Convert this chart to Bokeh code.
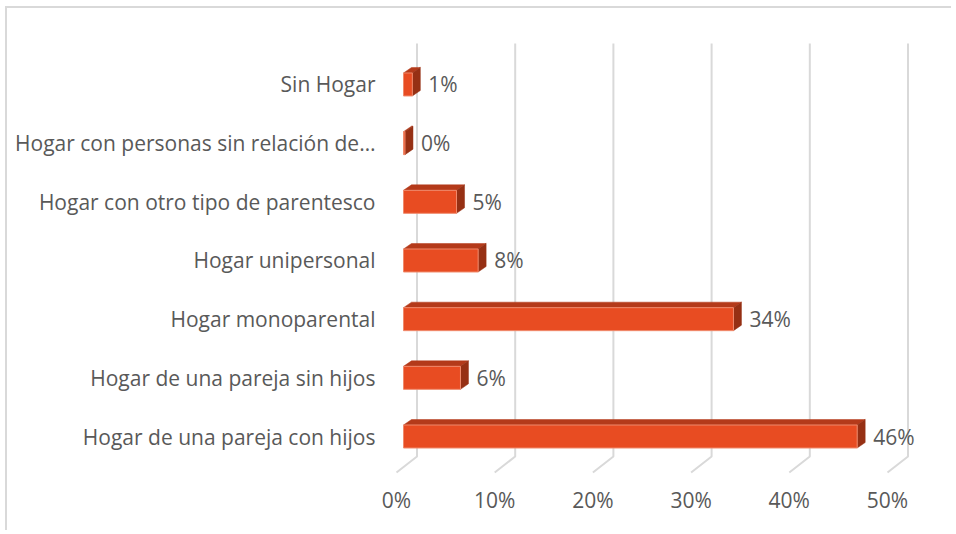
from bokeh.plotting import figure
from bokeh.models import FixedTicker, Range1d, ColumnDataSource
from bokeh.embed import file_html
from bokeh.resources import INLINE
from bokeh.core.properties import value

# ---- data ----
categories = [
    "Hogar de una pareja con hijos",
    "Hogar de una pareja sin hijos",
    "Hogar monoparental",
    "Hogar unipersonal",
    "Hogar con otro tipo de parentesco",
    "Hogar con personas sin relación de…",
    "Sin Hogar",
]
values = [46.2, 5.8, 33.6, 7.6, 5.4, 0.15, 0.9]
x_ticks = [0, 10, 20, 30, 40, 50]
x_tick_labels = ["0%", "10%", "20%", "30%", "40%", "50%"]

# ---- layout / geometry (pixels -> data) ----
W, H = 946, 524
FRAME_W, FRAME_H = 555, 448
BL, BT = 378, 22
PXU = 9.82     # px per percent
PYU = 58.67    # px per category
x_start = -11 / PXU
x_end = x_start + FRAME_W / PXU
y_start = -42 / PYU
y_end = y_start + FRAME_H / PYU

FONT = "Open Sans"
TXT = "#595959"
GRID = "#d9d9d9"
FRONT = "#e84c22"
TOP = "#b43a1a"
SIDE = "#963014"

p = figure(width=W, height=H, output_backend="svg", toolbar_location=None,
           x_range=Range1d(x_start, x_end), y_range=Range1d(y_start, y_end),
           min_border_left=BL, min_border_top=BT,
           min_border_right=W - BL - FRAME_W, min_border_bottom=H - BT - FRAME_H,
           background_fill_color="white", border_fill_color="white",
           outline_line_color=None,
           styles={"border-left": "2px solid #d9d9d9", "border-top": "2px solid #d9d9d9",
                   "margin-left": "5px", "margin-top": "6px"})
p.xgrid.visible = False
p.ygrid.visible = False

# back-wall gridlines with slanted floor segments
bdx = 20.5 / PXU
g_top = y_end - 13 / PYU
g_bot = y_end - 426 / PYU
g_sl = y_end - 442 / PYU
gxs = [[t + bdx, t + bdx, t] for t in x_ticks]
gys = [[g_top, g_bot, g_sl] for _ in x_ticks]
p.multi_line(xs=gxs, ys=gys, line_color=GRID, line_width=2)

# 3D bars
off = 7 / PXU
hh = 11.5 / PYU
ddx = 8 / PXU
ddy = 5.5 / PYU
idx = list(range(len(categories)))
rights = [off + v for v in values]

top_xs = [[off, r, r + ddx, off + ddx] for r in rights]
top_ys = [[i + hh, i + hh, i + hh + ddy, i + hh + ddy] for i in idx]
side_xs = [[r, r, r + ddx, r + ddx] for r in rights]
side_ys = [[i - hh, i + hh, i + hh + ddy, i - hh + ddy] for i in idx]

p.patches(xs=top_xs, ys=top_ys, fill_color=TOP, line_color=TOP, line_width=0.5)
p.patches(xs=side_xs, ys=side_ys, fill_color=SIDE, line_color=SIDE, line_width=0.5)
p.quad(left=[off] * len(values), right=rights,
       bottom=[i - hh for i in idx], top=[i + hh for i in idx],
       fill_color=FRONT, line_color="#f08a6c", line_width=1)

# value labels
lab_src = ColumnDataSource(dict(
    x=[r + 16 / PXU for r in rights], y=idx,
    t=[f"{round(v)}%" for v in values]))
p.text(x="x", y="y", text="t", source=lab_src, text_font=value(FONT),
       text_font_size="21px", text_color=TXT, text_baseline="middle",
       text_align="left")

# axes
p.xaxis.ticker = FixedTicker(ticks=x_ticks)
p.xaxis.major_label_overrides = {t: l for t, l in zip(x_ticks, x_tick_labels)}
p.yaxis.ticker = FixedTicker(ticks=idx)
p.yaxis.major_label_overrides = {i: c for i, c in zip(idx, categories)}
for ax in (p.xaxis[0], p.yaxis[0]):
    ax.axis_line_color = None
    ax.major_tick_line_color = None
    ax.minor_tick_line_color = None
    ax.major_tick_out = 0
    ax.major_tick_in = 0
    ax.minor_tick_out = 0
    ax.minor_tick_in = 0
    ax.major_label_text_font = FONT
    ax.major_label_text_font_size = "21px"
    ax.major_label_text_color = TXT
p.xaxis.major_label_standoff = 7
p.yaxis.major_label_standoff = 10

open("out.html", "w").write(file_html(p, INLINE))
